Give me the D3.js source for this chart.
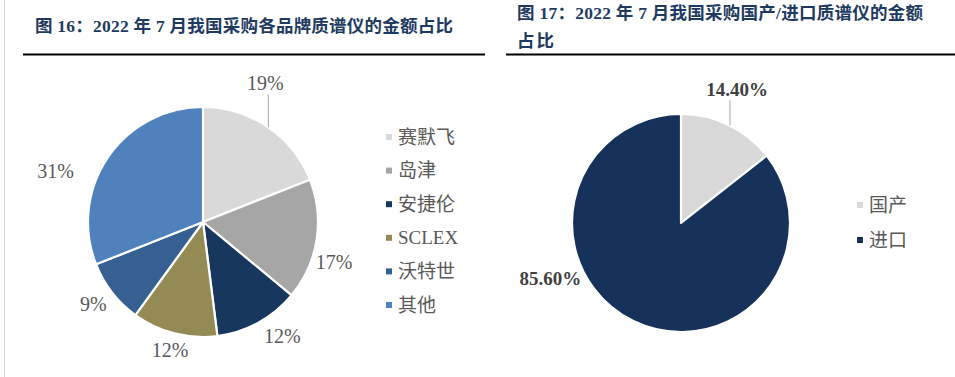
<!DOCTYPE html>
<html>
<head>
<meta charset="utf-8">
<script src="https://cdn.jsdelivr.net/npm/d3@7"></script>
<style>
  body { margin: 0; background: #fff; }
  svg text { font-family: "Liberation Serif", "Times New Roman", "Noto Sans CJK SC", serif; }
</style>
</head>
<body>
<div id="chart"></div>
<script>
// figure 16: brands
var brands = ["赛默飞", "岛津", "安捷伦", "SCLEX", "沃特世", "其他"];
var brandShare = [19, 17, 12, 12, 9, 31];
var brandLabels = ["19%", "17%", "12%", "12%", "9%", "31%"];
var brandColors = ["#d9d9d9", "#a6a6a6", "#17375e", "#948a54", "#376092", "#4f81bd"];

// figure 17: domestic / imported
var origins = ["国产", "进口"];
var originShare = [14.4, 85.6];
var originLabels = ["14.40%", "85.60%"];
var originColors = ["#d9d9d9", "#16325a"];

var width = 955, height = 377;
var svg = d3.select("#chart").append("svg")
  .attr("width", width)
  .attr("height", height);

// faint page edge on the left
svg.append("line")
  .attr("x1", 4.5).attr("x2", 4.5).attr("y1", 0).attr("y2", height)
  .attr("stroke", "#d4d4d4").attr("stroke-width", 1);

// titles
var titleColor = "#1f3a60";
svg.append("text")
  .attr("x", 35).attr("y", 32)
  .attr("font-size", 17.5).attr("font-weight", "bold").attr("fill", titleColor)
  .attr("textLength", 418).attr("lengthAdjust", "spacing")
  .text("图 16：2022 年 7 月我国采购各品牌质谱仪的金额占比");
svg.append("text")
  .attr("x", 517).attr("y", 19)
  .attr("font-size", 17.5).attr("font-weight", "bold").attr("fill", titleColor)
  .attr("textLength", 406).attr("lengthAdjust", "spacing")
  .text("图 17：2022 年 7 月我国采购国产/进口质谱仪的金额");
svg.append("text")
  .attr("x", 517).attr("y", 47)
  .attr("font-size", 17.5).attr("font-weight", "bold").attr("fill", titleColor)
  .attr("letter-spacing", 2)
  .text("占比");

svg.append("line").attr("x1", 23).attr("x2", 485).attr("y1", 54.5).attr("y2", 54.5)
  .attr("stroke", "#000").attr("stroke-width", 2.2);
svg.append("line").attr("x1", 506).attr("x2", 955).attr("y1", 54.5).attr("y2", 54.5)
  .attr("stroke", "#000").attr("stroke-width", 2.2);

function drawPie(opt) {
  var g = svg.append("g").attr("transform", "translate(" + opt.cx + "," + opt.cy + ")");
  var pie = d3.pie().sort(null).value(function(d){ return d; });
  var arcs = pie(opt.values);
  var arc = d3.arc().innerRadius(0).outerRadius(opt.r);

  g.selectAll("path.slice")
    .data(arcs)
    .enter().append("path")
    .attr("class", "slice")
    .attr("d", arc)
    .attr("fill", function(d, i){ return opt.colors[i]; })
    .attr("stroke", "#fff")
    .attr("stroke-width", 2.2)
    .attr("stroke-linejoin", "round");

  // data labels: mid angle, nudged like excel's best fit placement
  arcs.forEach(function(d, i) {
    var a = (d.startAngle + d.endAngle) / 2 + opt.labelTurn[i] * Math.PI / 180;
    var rr = opt.labelDist[i];
    var x = Math.sin(a) * rr, y = -Math.cos(a) * rr;
    g.append("text")
      .attr("x", x).attr("y", y)
      .attr("dy", "0.35em")
      .attr("text-anchor", "middle")
      .attr("font-size", opt.labelSize)
      .attr("font-weight", opt.labelWeight)
      .attr("fill", opt.labelColor)
      .text(opt.labels[i]);
    if (opt.leader[i]) {
      var lx = x + opt.leader[i];
      var edge = -Math.sqrt(opt.r * opt.r - lx * lx);
      g.append("line")
        .attr("x1", lx).attr("x2", lx)
        .attr("y1", y + 11).attr("y2", edge)
        .attr("stroke", "#a6a6a6").attr("stroke-width", 1);
    }
  });

  // legend
  var lg = svg.append("g").attr("transform", "translate(" + opt.legendX + "," + opt.legendY + ")");
  var item = lg.selectAll("g.item")
    .data(opt.names)
    .enter().append("g")
    .attr("class", "item")
    .attr("transform", function(d, i){ return "translate(0," + (i * opt.legendStep) + ")"; });
  item.append("rect")
    .attr("x", 0).attr("y", -3)
    .attr("width", 6).attr("height", 6)
    .attr("fill", function(d, i){ return opt.colors[i]; });
  item.append("text")
    .attr("x", 12).attr("y", 0).attr("dy", "0.35em")
    .attr("font-size", 19)
    .attr("fill", "#595959")
    .text(function(d){ return d; });
}

drawPie({
  cx: 203, cy: 222, r: 115,
  values: brandShare, colors: brandColors, labels: brandLabels, names: brands,
  labelTurn: [-10, 8, -6, 0, 1, -15],
  labelDist: [152, 137, 139, 132, 137, 156],
  leader: [3, 0, 0, 0, 0, 0],
  labelSize: 20, labelWeight: "normal", labelColor: "#595959",
  legendX: 386, legendY: 137, legendStep: 33.6
});

drawPie({
  cx: 681, cy: 223, r: 109,
  values: originShare, colors: originColors, labels: originLabels, names: origins,
  labelTurn: [-3.2, 41],
  labelDist: [145, 142],
  leader: [-7, 0],
  labelSize: 19, labelWeight: "bold", labelColor: "#404040",
  legendX: 857, legendY: 205, legendStep: 35
});
</script>
</body>
</html>
